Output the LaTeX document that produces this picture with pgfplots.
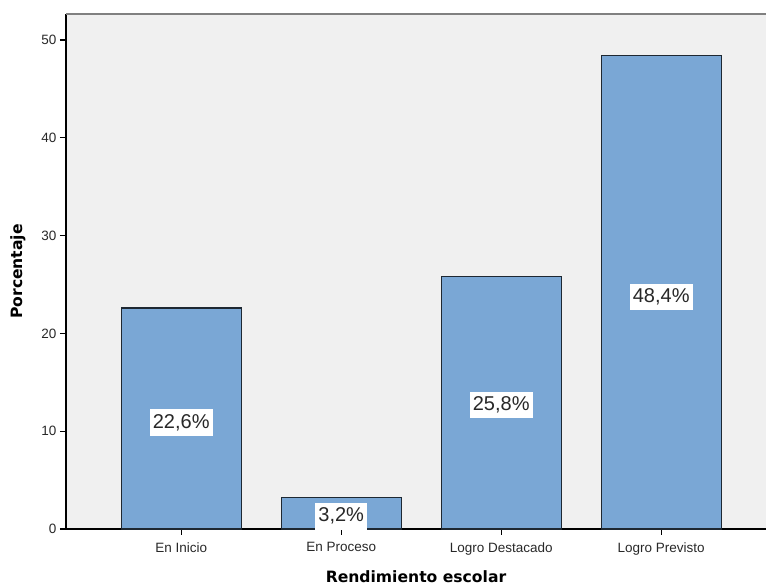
\documentclass[border=0pt]{standalone}
\usepackage{pgfplots}
\pgfplotsset{compat=1.18}
\usepackage{fontspec}
\setmainfont{Liberation Sans}
\newfontfamily\titlefont{DejaVu Sans}

\definecolor{plotbg}{RGB}{240,240,240}
\definecolor{barfill}{RGB}{122,167,213}
\definecolor{barline}{RGB}{30,40,50}
\definecolor{ticktext}{RGB}{40,40,40}

\begin{document}
\begin{tikzpicture}
\path[use as bounding box] (0,0) rectangle (766pt,586pt);
\begin{pgfinterruptboundingbox}
\begin{axis}[
    name=ax,
    at={(66pt,57pt)}, anchor=south west,
    scale only axis,
    width=700pt, height=515pt,
    xmin=-0.72, xmax=3.655,
    ymin=0, ymax=52.66,
    axis background/.style={fill=plotbg},
    axis x line*=bottom,
    axis y line*=left,
    axis line style={black, line width=1.2pt, -},
    tick align=outside,
    major tick length=6pt,
    tick style={black, line width=1.2pt},
    xtick={0,1,2,3},
    xticklabels={En Inicio, En Proceso, Logro Destacado, Logro Previsto},
    ytick={0,10,20,30,40,50},
    ticklabel style={font=\fontsize{13.5}{15}\selectfont, text=ticktext},
    xticklabel style={yshift=-4pt},
    /pgf/number format/assume math mode=true,
    clip=false,
]
\addplot[ybar, bar width=0.75, fill=barfill, draw=barline, line width=1.2pt]
    coordinates {(0,22.6) (1,3.2) (2,25.8) (3,48.4)};
\addplot[draw=none, mark=none,
    nodes near coords, point meta=explicit symbolic,
    every node near coord/.style={anchor=center, fill=white, text=ticktext,
        inner xsep=3pt, inner ysep=5pt, font=\fontsize{20}{22}\selectfont}]
    coordinates {(0,10.9)[22,6\%] (1,1.3)[3,2\%] (2,12.7)[25,8\%] (3,23.7)[48,4\%]};
\draw[gray, line width=1.5pt] (rel axis cs:0,1) -- (rel axis cs:1,1);
\end{axis}
\node[font=\titlefont\bfseries\fontsize{15.6}{18}\selectfont] at ([yshift=-48pt]ax.south) {Rendimiento escolar};
\node[rotate=90, font=\titlefont\bfseries\fontsize{15.6}{18}\selectfont] at ([xshift=-48pt]ax.west) {Porcentaje};
\end{pgfinterruptboundingbox}
\end{tikzpicture}
\end{document}
